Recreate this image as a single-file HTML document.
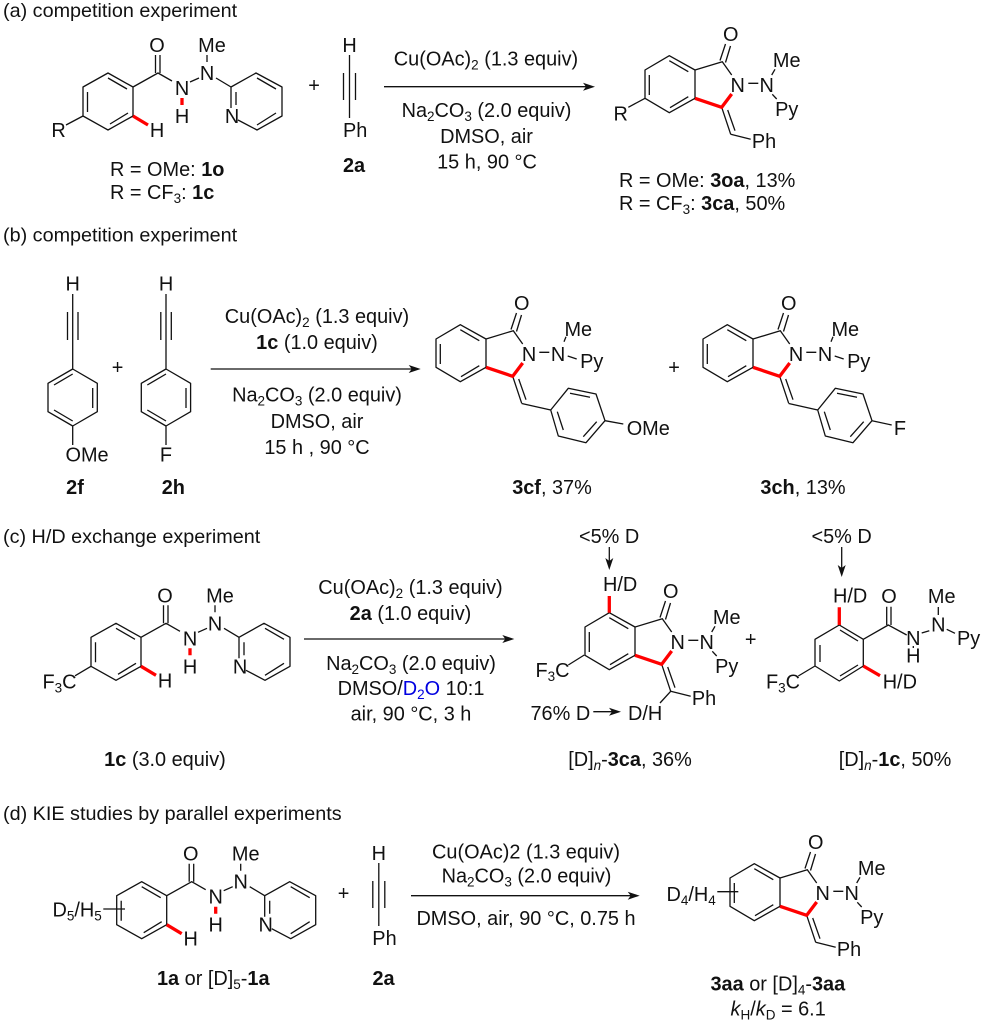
<!DOCTYPE html>
<html><head><meta charset="utf-8"><style>
html,body{margin:0;padding:0;background:#fff}
svg{display:block}
text{font-family:"Liberation Sans",sans-serif;font-size:19.9px;fill:#111}
.m{text-anchor:middle}
.t{font-size:19.8px}
.b{font-weight:bold}
.bo{fill:none;stroke:#111;stroke-width:1.3;stroke-linecap:butt;stroke-linejoin:round}
.r{fill:none;stroke:#f00;stroke-width:3.3;stroke-linecap:butt;stroke-linejoin:round}
.s{font-size:13.5px}
</style></head><body>
<svg width="982" height="1024" viewBox="0 0 982 1024" xmlns="http://www.w3.org/2000/svg">
<defs>
<path id="hyd" class="bo" d="M108 73L133 87V116L108 130L83 116V87ZM108 78L127 89M87.5 92V112M110 124L128 113M133 87L158 73L172 81M155.5 55V73M160 55V73M190 82L199 78M207 55V62M216 78L231 87L256 73L282 87V116L257 130L238 120M231 87V108M236 92V105M257 78L276 89M257 125L276 113"/>
<path id="prod" class="bo" d="M669.3 55.7L695 70V98.3L669.3 112.7L645 98.3V70ZM669.3 60.7L688.3 71.7M649.3 75V95M670 107.7L688.3 96.7M695 70L722.3 61.7L731.7 75M720 60.5L725.5 44M725.5 62.5L730.5 46M748.3 83.3H758.3M721.7 107.3L730.7 134.3M727.7 110L735 130.7"/>
<path id="prodr" class="r" d="M695 98.3L721.7 107.3L731.7 94"/>
<path id="ald" class="bo" d="M349.5 55V118M343.5 73V100M355.5 73V100"/>
</defs>

<!-- (a) -->
<text class="t" x="3" y="17">(a) competition experiment</text>
<use href="#hyd"/>
<path class="bo" d="M83 116L66 125"/>
<path class="r" d="M133 116L148 125M182 98V105"/>
<text class="m" x="157" y="52">O</text><text class="m" x="212" y="52">Me</text>
<text class="m" x="182" y="95">N</text><text class="m" x="207" y="80">N</text>
<text class="m" x="232" y="123">N</text><text class="m" x="182" y="123">H</text>
<text class="m" x="157" y="137">H</text><text class="m" x="58.5" y="137">R</text>
<text x="110" y="176">R = OMe: <tspan class="b">1o</tspan></text>
<text x="110" y="199">R = CF<tspan class="s" dy="4">3</tspan><tspan dy="-4">: </tspan><tspan class="b">1c</tspan></text>
<text class="m" x="314" y="92">+</text>
<use href="#ald"/>
<text class="m" x="349.5" y="52">H</text><text x="343" y="137">Ph</text>
<text class="m b" x="354" y="172">2a</text>
<path class="bo" d="M384 86.7H590"/><path d="M595 86.7L583 82.7L586 86.7L583 90.7Z" fill="#111"/>
<text class="m" x="486" y="65.5">Cu(OAc)<tspan class="s" dy="4">2</tspan><tspan dy="-4"> (1.3 equiv)</tspan></text>
<text class="m" x="486.5" y="117">Na<tspan class="s" dy="4">2</tspan><tspan dy="-4">CO</tspan><tspan class="s" dy="4">3</tspan><tspan dy="-4"> (2.0 equiv)</tspan></text>
<text class="m" x="486.5" y="143">DMSO, air</text>
<text class="m" x="487" y="168.5">15 h, 90 °C</text>
<use href="#prod"/><use href="#prodr"/>
<path class="bo" d="M645 98.3L628.3 107.3M771.7 75L775 69.3M772.3 94.3L776.7 99M730.7 134.3L750.7 139.3"/>
<text class="m" x="730.7" y="41">O</text><text class="m" x="737.7" y="92">N</text><text class="m" x="766.7" y="92">N</text>
<text class="m" x="786.7" y="67">Me</text><text class="m" x="786.7" y="116">Py</text><text class="m" x="764" y="148">Ph</text>
<text class="m" x="620.7" y="120.7">R</text>
<text x="619" y="187">R = OMe: <tspan class="b">3oa</tspan>, 13%</text>
<text x="619" y="210">R = CF<tspan class="s" dy="4">3</tspan><tspan dy="-4">: </tspan><tspan class="b">3ca</tspan>, 50%</text>

<!-- (b) -->
<text class="t" x="3" y="241.7">(b) competition experiment</text>
<path class="bo" d="M72.7 294V369M67.5 312V340M78 312V340M72.7 369L97.3 383.3V411.7L72.7 426L48 411.7V383.3ZM72.7 374L54 385M92.7 388V408M72.7 421L54 410M72.7 426V445"/>
<path class="bo" transform="translate(93.3 0)" d="M72.7 294V369M67.5 312V340M78 312V340M72.7 369L97.3 383.3V411.7L72.7 426L48 411.7V383.3ZM72.7 374L54 385M92.7 388V408M72.7 421L54 410M72.7 426V445"/>
<text class="m" x="72.7" y="290.7">H</text><text class="m" x="166" y="290.7">H</text>
<text x="65.5" y="461.7">OMe</text><text class="m" x="166" y="461.7">F</text>
<text class="m b" x="75" y="494">2f</text><text class="m b" x="173.3" y="494">2h</text>
<text class="m" x="117.5" y="374">+</text>
<path class="bo" d="M210.7 369H416"/><path d="M420.7 369L408.7 365L411.7 369L408.7 373Z" fill="#111"/>
<text class="m" x="317" y="323">Cu(OAc)<tspan class="s" dy="4">2</tspan><tspan dy="-4"> (1.3 equiv)</tspan></text>
<text class="m" x="317" y="349"><tspan class="b">1c</tspan> (1.0 equiv)</text>
<text class="m" x="317" y="401.7">Na<tspan class="s" dy="4">2</tspan><tspan dy="-4">CO</tspan><tspan class="s" dy="4">3</tspan><tspan dy="-4"> (2.0 equiv)</tspan></text>
<text class="m" x="317" y="428">DMSO, air</text>
<text class="m" x="317" y="454">15 h , 90 °C</text>
<g transform="translate(-209 269)"><use href="#prod"/><use href="#prodr"/></g>
<path class="bo" d="M564 341.7L566 336.7M567.7 356L576.7 359M521.7 403.5L550.7 410L568.3 388.3L596 394L605 420.7L586 442.7L558.3 436L550.7 410M570 393.3L590 397.3M583.3 436.7L596.7 421.7M557.3 411.7L563.3 430M605 420.7L623.3 424"/>
<text class="m" x="521.7" y="310">O</text><text class="m" x="529" y="361">N</text><text class="m" x="558" y="361">N</text>
<text class="m" x="578.3" y="336">Me</text><text class="m" x="591.7" y="368">Py</text><text x="626.7" y="435">OMe</text>
<text class="m" x="674" y="374">+</text>
<g transform="translate(58 269)"><use href="#prod"/><use href="#prodr"/></g>
<g transform="translate(267 0)">
<path class="bo" d="M564 341.7L566 336.7M567.7 356L576.7 359M521.7 403.5L550.7 410L568.3 388.3L596 394L605 420.7L586 442.7L558.3 436L550.7 410M570 393.3L590 397.3M583.3 436.7L596.7 421.7M557.3 411.7L563.3 430M605 420.7L624.7 425"/>
<text class="m" x="521.7" y="310">O</text><text class="m" x="529" y="361">N</text><text class="m" x="558" y="361">N</text>
<text class="m" x="578.3" y="336">Me</text><text class="m" x="591.7" y="368">Py</text>
</g>
<text class="m" x="900" y="435">F</text>
<text class="m" x="552" y="494"><tspan class="b">3cf</tspan>, 37%</text>
<text class="m" x="803" y="494"><tspan class="b">3ch</tspan>, 13%</text>

<!-- (c) -->
<text class="t" x="3" y="543">(c) H/D exchange experiment</text>
<g transform="translate(8 550.3)">
<use href="#hyd"/>
<path class="bo" d="M83 116L67 125.5"/>
<path class="r" d="M133 116L148 125M182 98V105"/>
<text class="m" x="157" y="52">O</text><text class="m" x="212" y="52">Me</text>
<text class="m" x="182" y="95">N</text><text class="m" x="207" y="80">N</text>
<text class="m" x="232" y="123">N</text><text class="m" x="182" y="123">H</text>
<text class="m" x="157" y="137">H</text>
</g>
<text x="42.5" y="688.3">F<tspan class="s" dy="4">3</tspan><tspan dy="-4">C</tspan></text>
<text class="m" x="165" y="766"><tspan class="b">1c</tspan> (3.0 equiv)</text>
<path class="bo" d="M304 639H509.5"/><path d="M514.3 639L502.3 635L505.3 639L502.3 643Z" fill="#111"/>
<text class="m" x="410.5" y="594">Cu(OAc)<tspan class="s" dy="4">2</tspan><tspan dy="-4"> (1.3 equiv)</tspan></text>
<text class="m" x="410.5" y="620"><tspan class="b">2a</tspan> (1.0 equiv)</text>
<text class="m" x="411" y="670">Na<tspan class="s" dy="4">2</tspan><tspan dy="-4">CO</tspan><tspan class="s" dy="4">3</tspan><tspan dy="-4"> (2.0 equiv)</tspan></text>
<text class="m" x="411" y="695">DMSO/<tspan style="fill:#0000e0">D</tspan><tspan class="s" dy="4" style="fill:#0000e0">2</tspan><tspan dy="-4" style="fill:#0000e0">O</tspan> 10:1</text>
<text class="m" x="411" y="720.5">air, 90 °C, 3 h</text>
<g transform="translate(-60 557)">
<use href="#prod"/><use href="#prodr"/>
<path class="bo" d="M771.7 75L775 69.3M772.3 94.3L776.7 99M730.7 134.3L750.7 139.3M730.7 134.3L720 146"/>
<text class="m" x="730.7" y="41">O</text><text class="m" x="737.7" y="92">N</text><text class="m" x="766.7" y="92">N</text>
<text class="m" x="786.7" y="67">Me</text><text class="m" x="786.7" y="116">Py</text><text class="m" x="764" y="148">Ph</text>
</g>
<path class="bo" d="M584.3 655L568.3 665"/>
<path class="r" d="M609.3 612.7V596"/>
<text x="603" y="591">H/D</text>
<text x="579" y="543">&lt;5% D</text>
<path class="bo" d="M609.3 547V566"/><path d="M609.3 570L605.3 558L609.3 561L613.3 558Z" fill="#111"/>
<text x="535.5" y="677">F<tspan class="s" dy="4">3</tspan><tspan dy="-4">C</tspan></text>
<text x="530.5" y="720">76% D</text>
<path class="bo" d="M593.3 711.7H617"/><path d="M621 711.7L609 707.7L612 711.7L609 715.7Z" fill="#111"/>
<text x="628" y="720">D/H</text>
<text class="m" x="750.7" y="646">+</text>
<path class="bo" d="M839.3 625L863.3 639.3V666L839.3 681L815 666V639.3ZM840 630L858 641M820 645V662M840 676L858 665M863.3 639.3L888.3 625L906.7 635M886.7 606.7V625M891 606.7V625M921.7 633L929.3 630.7M938.3 607V615M946.7 629.3L955 633.3M815 666L798.3 676M913.3 646V648"/>
<path class="r" d="M839.3 625V607.3M863.3 666L880 675.7"/>
<text x="833" y="602.7">H/D</text><text x="882.7" y="688.3">H/D</text>
<text x="811.5" y="543">&lt;5% D</text>
<path class="bo" d="M841.7 547V572"/><path d="M841.7 577L837.7 565L841.7 568L845.7 565Z" fill="#111"/>
<text class="m" x="889" y="603">O</text><text class="m" x="913.3" y="645">N</text><text class="m" x="913.3" y="662.5">H</text>
<text class="m" x="938.3" y="631.7">N</text><text class="m" x="941.7" y="603">Me</text><text x="957" y="645">Py</text>
<text x="766" y="688.3">F<tspan class="s" dy="4">3</tspan><tspan dy="-4">C</tspan></text>
<text class="m" x="630" y="766">[D]<tspan class="s" dy="4" font-style="italic">n</tspan><tspan dy="-4">-</tspan><tspan class="b">3ca</tspan>, 36%</text>
<text class="m" x="895" y="766">[D]<tspan class="s" dy="4" font-style="italic">n</tspan><tspan dy="-4">-</tspan><tspan class="b">1c</tspan>, 50%</text>

<!-- (d) -->
<text class="t" x="3" y="820">(d) KIE studies by parallel experiments</text>
<g transform="translate(33.7 808.7)">
<use href="#hyd"/>
<path class="r" d="M133 116L148 125M182 98V105"/>
<text class="m" x="157" y="52">O</text><text class="m" x="212" y="52">Me</text>
<text class="m" x="182" y="95">N</text><text class="m" x="207" y="80">N</text>
<text class="m" x="232" y="123">N</text><text class="m" x="182" y="123">H</text>
<text class="m" x="157" y="137">H</text>
</g>
<path class="bo" d="M103.3 909H125"/>
<text x="52.5" y="916.7">D<tspan class="s" dy="4">5</tspan><tspan dy="-4">/H</tspan><tspan class="s" dy="4">5</tspan></text>
<text x="157" y="985"><tspan class="b">1a</tspan> or [D]<tspan class="s" dy="4">5</tspan><tspan dy="-4">-</tspan><tspan class="b">1a</tspan></text>
<text class="m" x="343.5" y="900">+</text>
<g transform="translate(29.3 808)"><use href="#ald"/>
<text class="m" x="349.5" y="52">H</text><text x="343" y="137">Ph</text></g>
<text class="m b" x="383.5" y="985">2a</text>
<path class="bo" d="M411 895.7H635"/><path d="M639.7 895.7L627.7 891.7L630.7 895.7L627.7 899.7Z" fill="#111"/>
<text class="m" x="526" y="858.5">Cu(OAc)2 (1.3 equiv)</text>
<text class="m" x="526.5" y="882.5">Na<tspan class="s" dy="4">2</tspan><tspan dy="-4">CO</tspan><tspan class="s" dy="4">3</tspan><tspan dy="-4"> (2.0 equiv)</tspan></text>
<text class="m" x="526" y="925">DMSO, air, 90 °C, 0.75 h</text>
<g transform="translate(85 808)">
<use href="#prod"/><use href="#prodr"/>
<path class="bo" d="M771.7 75L775 69.3M772.3 94.3L776.7 99M730.7 134.3L750.7 139.3"/>
<text class="m" x="730.7" y="41">O</text><text class="m" x="737.7" y="92">N</text><text class="m" x="766.7" y="92">N</text>
<text class="m" x="786.7" y="67">Me</text><text class="m" x="786.7" y="116">Py</text><text class="m" x="764" y="148">Ph</text>
</g>
<path class="bo" d="M717.3 891.7H738.3"/>
<text x="666.5" y="901">D<tspan class="s" dy="4">4</tspan><tspan dy="-4">/H</tspan><tspan class="s" dy="4">4</tspan></text>
<text x="710.5" y="990.7"><tspan class="b">3aa</tspan> or [D]<tspan class="s" dy="4">4</tspan><tspan dy="-4">-</tspan><tspan class="b">3aa</tspan></text>
<text x="730.5" y="1015.7"><tspan font-style="italic">k</tspan><tspan class="s" dy="4">H</tspan><tspan dy="-4">/</tspan><tspan font-style="italic">k</tspan><tspan class="s" dy="4">D</tspan><tspan dy="-4"> = 6.1</tspan></text>
</svg>
</body></html>
